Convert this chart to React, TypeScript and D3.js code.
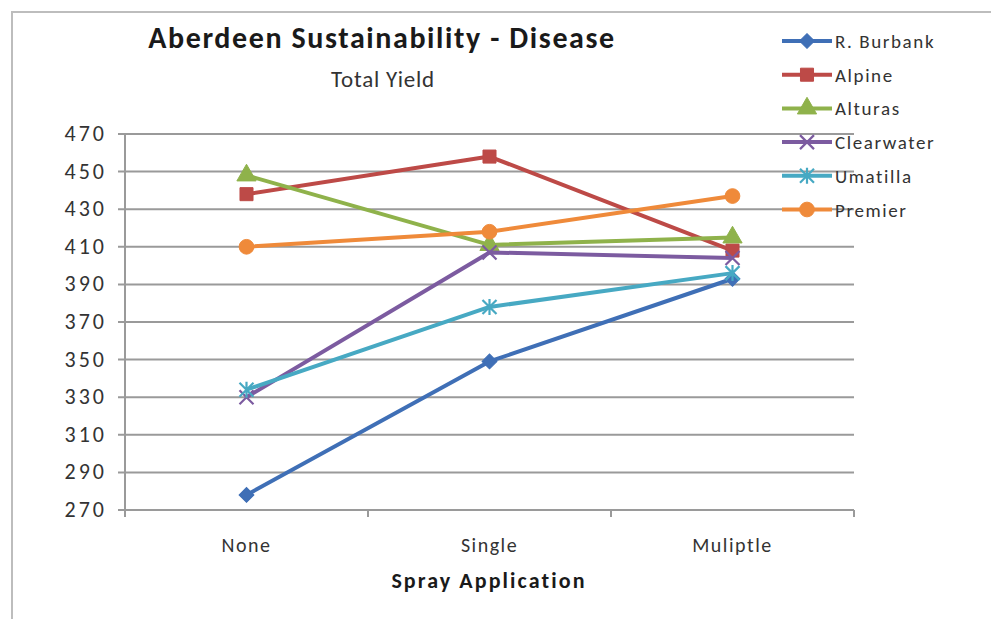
import React from 'react';
import * as d3 from 'd3';

const categories = ['None', 'Single', 'Muliptle'];
const yTickValues = [270, 290, 310, 330, 350, 370, 390, 410, 430, 450, 470];

const burbank = [278, 349, 393];
const alpine = [438, 458, 408];
const alturas = [448, 411, 415];
const clearwater = [330, 407, 404];
const umatilla = [334, 378, 396];
const premier = [410, 418, 437];

const seriesNames = ['R. Burbank', 'Alpine', 'Alturas', 'Clearwater', 'Umatilla', 'Premier'];
const seriesValues = [burbank, alpine, alturas, clearwater, umatilla, premier];
const seriesColors = ['#3f6fb6', '#bd4a47', '#8fb24b', '#7c5ba0', '#47a9c3', '#ef8a3a'];
const seriesMarkers = ['diamond', 'square', 'triangle', 'x', 'star', 'circle'];

const FONT = 'Carlito, Lato, "Open Sans", sans-serif';

const Marker: React.FC<{kind: string; x: number; y: number; color: string}> = ({kind, x, y, color}) => {
  const t = `translate(${x},${y})`;
  if (kind === 'x' || kind === 'star') {
    const r = 7;
    let d = `M${-r},${-r}L${r},${r}M${-r},${r}L${r},${-r}`;
    if (kind === 'star') d += `M0,${-r - 1}L0,${r + 1}`;
    return <path d={d} transform={t} stroke={color} strokeWidth={2.2} fill="none" />;
  }
  if (kind === 'diamond') {
    // excel diamond = square turned 45 degrees
    const path = d3.symbol().type(d3.symbolSquare).size(110)()!;
    return <path d={path} transform={`${t} rotate(45)`} fill={color} stroke={color} strokeWidth={1} />;
  }
  const type = kind === 'square' ? d3.symbolSquare : kind === 'triangle' ? d3.symbolTriangle : d3.symbolCircle;
  const size = kind === 'triangle' ? 160 : 170;
  const path = d3.symbol().type(type).size(size)()!;
  return <path d={path} transform={t} fill={color} stroke={color} strokeWidth={1} />;
};

export default function App() {
  const width = 991;
  const height = 619;
  const margin = {left: 125, right: 854, top: 134, bottom: 510};

  const x = d3.scaleBand().domain(categories).range([margin.left, margin.right]);
  const y = d3.scaleLinear().domain([270, 470]).range([margin.bottom, margin.top]);

  const line = d3.line<number>()
    .x((_, i) => x(categories[i])! + x.bandwidth() / 2)
    .y((d) => y(d));

  const tickXs = [...categories.map((c) => x(c)!), margin.right];

  return (
    <svg width={width} height={height} style={{position: 'absolute', left: 0, top: 0, background: '#fff'}}>
      {/* outer frame */}
      <path d={`M12,${height}V12H${width}`} fill="none" stroke="#bdbdbd" strokeWidth={2} />

      <text x={382} y={48} textAnchor="middle" fontFamily={FONT} fontWeight="bold" fontSize={30} letterSpacing={1.6} fill="#1a1a1a">
        Aberdeen Sustainability - Disease
      </text>
      <text x={383} y={87} textAnchor="middle" fontFamily={FONT} fontSize={23} letterSpacing={0.8} fill="#333">
        Total Yield
      </text>

      {/* gridlines */}
      {yTickValues.map((v) => (
        <g key={v}>
          <line x1={118} x2={margin.right} y1={y(v)} y2={y(v)} stroke="#9a9a9a" strokeWidth={2} />
          <text x={107} y={y(v) + 7} textAnchor="end" fontFamily={FONT} fontSize={22} letterSpacing={3} fill="#333">
            {v}
          </text>
        </g>
      ))}
      <line x1={margin.left} x2={margin.left} y1={margin.top} y2={margin.bottom + 6} stroke="#9a9a9a" strokeWidth={2} />
      {tickXs.map((tx, i) => (
        <line key={i} x1={tx} x2={tx} y1={margin.bottom} y2={margin.bottom + 7} stroke="#9a9a9a" strokeWidth={2} />
      ))}
      {categories.map((c) => (
        <text key={c} x={x(c)! + x.bandwidth() / 2} y={552} textAnchor="middle" fontFamily={FONT} fontSize={20} letterSpacing={1.5} fill="#333">
          {c}
        </text>
      ))}
      <text x={489} y={588} textAnchor="middle" fontFamily={FONT} fontWeight="bold" fontSize={22} letterSpacing={2.1} fill="#1a1a1a">
        Spray Application
      </text>

      {/* series */}
      {seriesValues.map((vals, si) => (
        <g key={seriesNames[si]}>
          <path d={line(vals)!} fill="none" stroke={seriesColors[si]} strokeWidth={4} strokeLinejoin="round" />
          {vals.map((v, i) => (
            <Marker key={i} kind={seriesMarkers[si]} x={x(categories[i])! + x.bandwidth() / 2} y={y(v)} color={seriesColors[si]} />
          ))}
        </g>
      ))}

      {/* legend */}
      {seriesNames.map((name, i) => {
        const ly = 41 + i * 33.7;
        return (
          <g key={name}>
            <line x1={782} x2={832} y1={ly} y2={ly} stroke={seriesColors[i]} strokeWidth={4} />
            <Marker kind={seriesMarkers[i]} x={807} y={ly} color={seriesColors[i]} />
            <text x={835} y={ly + 7} fontFamily={FONT} fontSize={19} fill="#333" letterSpacing={1.6}>
              {name}
            </text>
          </g>
        );
      })}
    </svg>
  );
}
